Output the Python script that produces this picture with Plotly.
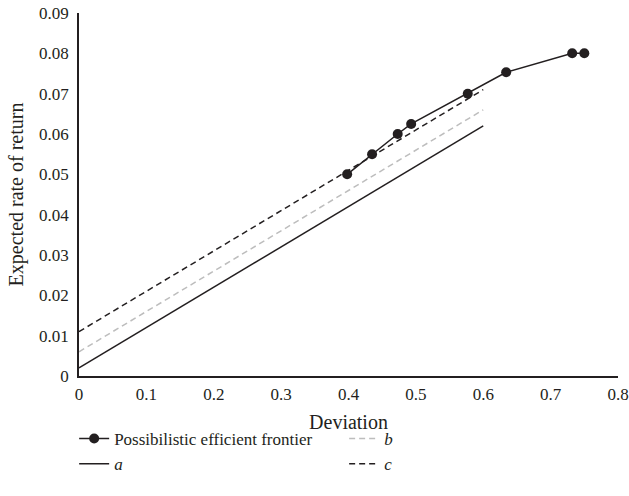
import plotly.graph_objects as go

# Data
frontier_x = [0.398, 0.435, 0.473, 0.493, 0.577, 0.634, 0.732, 0.750]
frontier_y = [0.050, 0.055, 0.060, 0.0625, 0.070, 0.0753, 0.080, 0.080]

line_x = [0.0, 0.6]
a_y = [0.002, 0.062]
b_y = [0.006, 0.066]
c_y = [0.011, 0.071]

x_ticks = [0, 0.1, 0.2, 0.3, 0.4, 0.5, 0.6, 0.7, 0.8]
x_tick_labels = ["0", "0.1", "0.2", "0.3", "0.4", "0.5", "0.6", "0.7", "0.8"]
y_ticks = [0, 0.01, 0.02, 0.03, 0.04, 0.05, 0.06, 0.07, 0.08, 0.09]
y_tick_labels = ["0", "0.01", "0.02", "0.03", "0.04", "0.05", "0.06", "0.07", "0.08", "0.09"]

ink = "#231f20"
font_family = "Liberation Serif, Times New Roman, serif"

fig = go.Figure()
fig.add_trace(go.Scatter(x=frontier_x, y=frontier_y, mode="lines+markers",
                         name="Possibilistic efficient frontier",
                         line=dict(color=ink, width=1.5),
                         marker=dict(color=ink, size=10), cliponaxis=False))
fig.add_trace(go.Scatter(x=line_x, y=b_y, mode="lines", name="<i>b</i>",
                         line=dict(color="#bdbdbd", width=1.5, dash="6px,4px")))
fig.add_trace(go.Scatter(x=line_x, y=a_y, mode="lines", name="<i>a</i>",
                         line=dict(color=ink, width=1.5)))
fig.add_trace(go.Scatter(x=line_x, y=c_y, mode="lines", name="<i>c</i>",
                         line=dict(color=ink, width=1.5, dash="6px,4px")))

fig.update_layout(
    width=629, height=496,
    margin=dict(l=79, r=11, t=13, b=120),
    plot_bgcolor="white", paper_bgcolor="white",
    font=dict(family=font_family, size=17, color=ink),
    showlegend=True,
    legend=dict(orientation="h", x=-0.009, y=-0.124, xanchor="left", yanchor="top",
                entrywidth=225, tracegroupgap=0,
                font=dict(family=font_family, size=17, color=ink)),
)
fig.update_xaxes(range=[0, 0.8], tickvals=x_ticks, ticktext=x_tick_labels,
                 showline=True, linecolor=ink, linewidth=1.5, showgrid=False,
                 zeroline=False, ticks="outside", ticklen=2, tickcolor="rgba(0,0,0,0)",
                 automargin=False, title=dict(text="Deviation", standoff=12))
fig.update_yaxes(range=[0, 0.09], tickvals=y_ticks, ticktext=y_tick_labels,
                 showline=True, linecolor=ink, linewidth=1.5, showgrid=False,
                 zeroline=False, ticks="outside", ticklen=5, tickcolor="rgba(0,0,0,0)",
                 automargin=False, title=dict(text="Expected rate of return", standoff=10))

fig.write_html("out.html", post_script="document.body.style.margin='0';",
               config={"displayModeBar": False})
